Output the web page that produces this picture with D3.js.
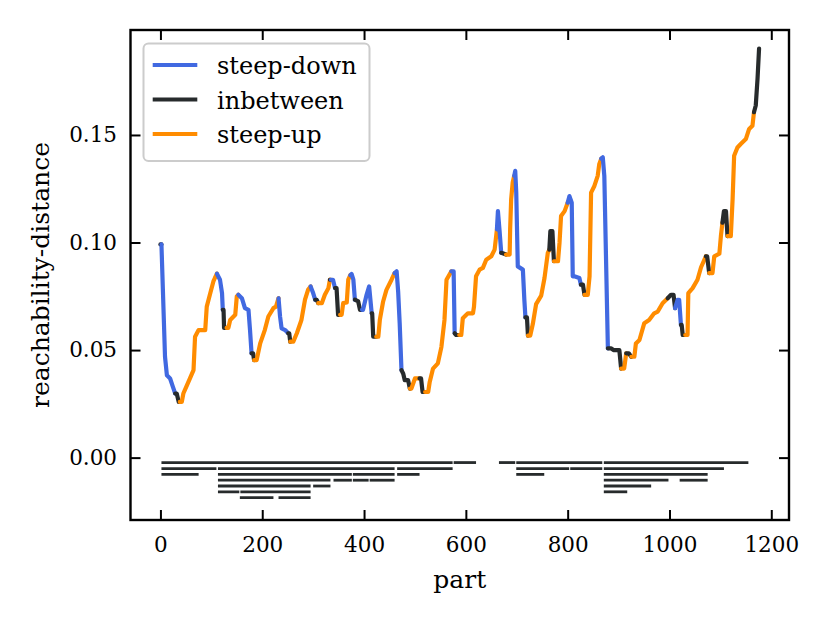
<!DOCTYPE html>
<html>
<head>
<meta charset="utf-8">
<script src="https://cdn.jsdelivr.net/npm/d3@7"></script>
<style>
  body { margin: 0; background: #fff; }
  svg text { font-family: "DejaVu Serif", serif; fill: #000; }
</style>
</head>
<body>
<svg id="chart" width="831" height="623"></svg>
<script>
// reachability plot: breakpoints, one line per run
// kind of the segment leading into each point: D steep-down, B inbetween, U steep-up
const part = [
    0, 2,
    9, 12.7, 19, 24.5, 29,
    32, 36, 38,
    42, 45, 52, 58, 65, 68, 75, 88, 91, 98, 104, 107, 111,
    117, 121, 122.5,
    124, 125, 130,
    133.5, 137, 147, 150, 153,
    160, 166, 173, 176, 179,
    182, 184,
    189, 196, 205, 212, 222, 227, 232,
    235, 238, 245, 251,
    253, 255,
    261, 268, 277, 284, 290, 295,
    300, 304,
    307, 310,
    317, 323, 330, 333,
    335,
    339, 343,
    346, 349, 353,
    356, 359, 366, 369, 373,
    375.5, 379, 382,
    388.5, 392, 396,
    398, 405, 410, 415,
    416, 418, 424,
    428, 431, 437.5, 444, 454, 460,
    464, 467, 470, 473.5,
    477, 480, 486.5, 490,
    493, 500, 509,
    512, 515, 520,
    526, 529, 535.5, 545, 552, 558, 562, 571.5,
    576, 578,
    581, 587,
    591, 594, 604, 614, 616, 620, 627, 633.5, 640, 650, 656.5, 661,
    663, 666, 669.5,
    679,
    686, 687, 689, 692, 695,
    697, 699, 702, 712, 715, 717,
    720, 722,
    726.5, 731.5, 738, 748, 754.5, 761, 764,
    766, 770, 773,
    781, 784, 787, 794, 800,
    803.5, 808, 810, 813, 823, 826,
    830, 833,
    839.5, 843, 846, 852.5, 859, 862, 866,
    869, 872, 879,
    885, 890, 901.5, 905,
    911, 915,
    920, 925,
    931, 934, 941, 950.5, 960, 970, 977, 986.5, 996.5,
    1003, 1008, 1011,
    1016, 1019, 1022.5,
    1024, 1026, 1031,
    1035.5, 1037, 1045.5, 1055, 1062, 1071.5,
    1074, 1078,
    1084.5, 1088, 1098, 1101, 1104,
    1107, 1111, 1114,
    1120.5, 1124, 1127, 1133.5, 1140, 1150, 1156.5, 1163, 1166,
    1169.5, 1173, 1176
];
const reach = [
    0.0991, 0.0991,
    0.0469, 0.0383, 0.0368, 0.0329, 0.0298,
    0.0298, 0.0259, 0.0259,
    0.0259, 0.0298, 0.0336, 0.0368, 0.0407, 0.0562, 0.0593, 0.0593, 0.0702, 0.0765, 0.0819, 0.0835, 0.0855,
    0.0827, 0.0765, 0.0687,
    0.0687, 0.0603, 0.0603,
    0.0603, 0.064, 0.0664, 0.0749, 0.0757,
    0.0741, 0.0695, 0.0687, 0.0593, 0.0485,
    0.0485, 0.0453,
    0.0453, 0.0531, 0.0593, 0.0656, 0.0695, 0.0702, 0.0741,
    0.0656, 0.0601, 0.0593, 0.0578,
    0.0578, 0.0539,
    0.0539, 0.0578, 0.064, 0.0734, 0.078, 0.0796,
    0.0765, 0.0734,
    0.0734, 0.0718,
    0.0718, 0.0757, 0.0788, 0.0827,
    0.0827,
    0.0827, 0.0788,
    0.0788, 0.0664, 0.0664,
    0.0664, 0.0718, 0.0721, 0.0827, 0.0848,
    0.0854, 0.0827, 0.0734,
    0.0726, 0.0687, 0.0687,
    0.0687, 0.0757, 0.0796, 0.0671,
    0.0671, 0.0562, 0.0562,
    0.0562, 0.064, 0.0726, 0.078, 0.0827, 0.0858,
    0.0866, 0.0772, 0.0625, 0.0407,
    0.039, 0.036, 0.036, 0.0321,
    0.0321, 0.0368, 0.0368,
    0.0368, 0.0305, 0.0305,
    0.0305, 0.0352, 0.0414, 0.0438, 0.0515, 0.064, 0.0827, 0.0866,
    0.0866, 0.0578,
    0.057, 0.057,
    0.057, 0.0648, 0.0671, 0.0671, 0.0702, 0.0843, 0.0874, 0.0882, 0.092, 0.0936, 0.0967, 0.1061,
    0.1146, 0.1061, 0.0952,
    0.0944,
    0.0944, 0.1061, 0.1201, 0.1279, 0.131,
    0.1333, 0.1232, 0.0889, 0.0874, 0.073, 0.0652,
    0.0652, 0.0567,
    0.0567, 0.0621, 0.0714, 0.0753, 0.0835, 0.0952, 0.0967,
    0.1053, 0.1053, 0.0913,
    0.0913, 0.0999, 0.1123, 0.1146, 0.1185,
    0.1216, 0.1185, 0.0843, 0.0843, 0.0835, 0.0804,
    0.0804, 0.0757,
    0.0757, 0.0843, 0.1232, 0.1263, 0.131, 0.1364, 0.139,
    0.1396, 0.131, 0.0508,
    0.0508, 0.05, 0.05, 0.0414,
    0.0414, 0.0485,
    0.0485, 0.0469,
    0.0469, 0.0531, 0.0547, 0.0625, 0.064, 0.0671, 0.0679, 0.0718, 0.0741,
    0.0757, 0.0757, 0.0695,
    0.0734, 0.0734, 0.0617,
    0.0617, 0.057, 0.057,
    0.057, 0.0765, 0.0788, 0.0827, 0.0885, 0.0936,
    0.0936, 0.0858,
    0.0858, 0.0936, 0.0948, 0.103, 0.1092,
    0.1146, 0.1146, 0.103,
    0.103, 0.1201, 0.1403, 0.1442, 0.1458, 0.1481, 0.1528, 0.1543, 0.1606,
    0.1637, 0.1762, 0.1902
];
const kind = [
    "B", "B",
    "D", "D", "D", "D", "D",
    "B", "B", "B",
    "U", "U", "U", "U", "U", "U", "U", "U", "U", "U", "U", "U", "U",
    "D", "D", "D",
    "B", "B", "B",
    "U", "U", "U", "U", "U",
    "D", "D", "D", "D", "D",
    "B", "B",
    "U", "U", "U", "U", "U", "U", "U",
    "D", "D", "D", "D",
    "B", "B",
    "U", "U", "U", "U", "U", "U",
    "D", "D",
    "B", "B",
    "U", "U", "U", "U",
    "B",
    "D", "D",
    "B", "B", "B",
    "U", "U", "U", "U", "U",
    "D", "D", "D",
    "B", "B", "B",
    "D", "D", "D", "D",
    "B", "B", "B",
    "U", "U", "U", "U", "U", "U",
    "D", "D", "D", "D",
    "B", "B", "B", "B",
    "U", "U", "U",
    "B", "B", "B",
    "U", "U", "U", "U", "U", "U", "U", "U",
    "D", "D",
    "B", "B",
    "U", "U", "U", "U", "U", "U", "U", "U", "U", "U", "U", "U",
    "D", "D", "D",
    "B",
    "U", "U", "U", "U", "U",
    "D", "D", "D", "D", "D", "D",
    "B", "B",
    "U", "U", "U", "U", "U", "U", "U",
    "B", "B", "B",
    "U", "U", "U", "U", "U",
    "D", "D", "D", "D", "D", "D",
    "B", "B",
    "U", "U", "U", "U", "U", "U", "U",
    "D", "D", "D",
    "B", "B", "B", "B",
    "U", "U",
    "B", "B",
    "U", "U", "U", "U", "U", "U", "U", "U", "U",
    "B", "B", "B",
    "D", "D", "D",
    "B", "B", "B",
    "U", "U", "U", "U", "U", "U",
    "B", "B",
    "U", "U", "U", "U", "U",
    "B", "B", "B",
    "U", "U", "U", "U", "U", "U", "U", "U", "U",
    "B", "B", "B"
];

// clusters drawn as bars under the plot
const clusterStart = [2, 576, 665, 699, 871,
                      2, 113, 465, 699, 805, 871,
                      2, 113, 378, 465, 699, 871,
                      113, 340, 378, 411, 871, 1020,
                      113, 300, 871,
                      113, 157, 871,
                      156, 232];
const clusterEnd   = [574, 620, 697, 868, 1155,
                      110, 460, 574, 803, 868, 1107,
                      75, 376, 460, 509, 754, 1075,
                      334, 376, 409, 460, 998, 1075,
                      295, 334, 964,
                      155, 295, 917,
                      222, 295];
const clusterLevel = [0, 0, 0, 0, 0,
                      1, 1, 1, 1, 1, 1,
                      2, 2, 2, 2, 2, 2,
                      3, 3, 3, 3, 3, 3,
                      4, 4, 4,
                      5, 5, 5,
                      6, 6];
const levelY = [-0.0023, -0.0051, -0.0078, -0.0105, -0.0132, -0.0159, -0.0186];

const xTicks = [0, 200, 400, 600, 800, 1000, 1200];
const yTicks = [0, 0.05, 0.10, 0.15];
const legendKinds = ["D", "B", "U"];
const legendNames = ["steep-down", "inbetween", "steep-up"];

const colors = { D: "#4169e1", B: "#272b2c", U: "#ff8c00" };

const mLeft = 130.5, mRight = 789, mTop = 30, mBottom = 520;

const svg = d3.select("#chart");
svg.append("rect").attr("width", 831).attr("height", 623).attr("fill", "#fff");

const x = d3.scaleLinear().domain([-58.8, 1234.8]).range([mLeft, mRight]);
const y = d3.scaleLinear().domain([-0.029, 0.1988]).range([mBottom, mTop]);

svg.append("clipPath").attr("id", "plotclip")
    .append("rect")
    .attr("x", mLeft).attr("y", mTop)
    .attr("width", mRight - mLeft).attr("height", mBottom - mTop);

const plot = svg.append("g").attr("clip-path", "url(#plotclip)");

// cluster bars
plot.append("g")
    .selectAll("line")
    .data(clusterStart.map((s, i) => ({ s: s, e: clusterEnd[i], lv: clusterLevel[i] })))
    .enter()
    .append("line")
    .attr("x1", d => x(d.s))
    .attr("x2", d => x(d.e))
    .attr("y1", d => y(levelY[d.lv]))
    .attr("y2", d => y(levelY[d.lv]))
    .attr("stroke", colors.B)
    .attr("stroke-width", 2.8);

// split the curve into runs of the same kind
let runs = [];
for (let i = 1; i < part.length; i++) {
    let last = runs[runs.length - 1];
    if (last && last.kind === kind[i]) last.pts.push(i);
    else runs.push({ kind: kind[i], pts: [i - 1, i] });
}

const line = d3.line()
    .x(i => x(part[i]))
    .y(i => y(reach[i]));

plot.append("g")
    .selectAll("path")
    .data(runs)
    .enter()
    .append("path")
    .attr("d", d => line(d.pts))
    .attr("fill", "none")
    .attr("stroke", d => colors[d.kind])
    .attr("stroke-width", 4.2)
    .attr("stroke-linejoin", "round")
    .attr("stroke-linecap", "round");

// axes with inward ticks on all four sides
const fmtY = d3.format(".2f");
function styleAxis(g) {
    g.select(".domain").remove();
    g.selectAll(".tick line").attr("stroke", "#000").attr("stroke-width", 2);
    g.selectAll(".tick text")
        .attr("fill", "#000")
        .style("font-family", "'DejaVu Serif', serif")
        .style("font-size", "21.5px");
}

svg.append("g")
    .attr("transform", "translate(0," + mBottom + ")")
    .call(d3.axisBottom(x).tickValues(xTicks).tickSize(-10).tickPadding(16.5).tickFormat(d3.format("d")))
    .call(styleAxis);
svg.append("g")
    .attr("transform", "translate(0," + mTop + ")")
    .call(d3.axisTop(x).tickValues(xTicks).tickSize(-10).tickFormat(""))
    .call(styleAxis);
svg.append("g")
    .attr("transform", "translate(" + mLeft + ",0)")
    .call(d3.axisLeft(y).tickValues(yTicks).tickSize(-10).tickPadding(13.5).tickFormat(fmtY))
    .call(styleAxis);
svg.append("g")
    .attr("transform", "translate(" + mRight + ",0)")
    .call(d3.axisRight(y).tickValues(yTicks).tickSize(-10).tickFormat(""))
    .call(styleAxis);

svg.append("rect")
    .attr("x", mLeft).attr("y", mTop)
    .attr("width", mRight - mLeft).attr("height", mBottom - mTop)
    .attr("fill", "none")
    .attr("stroke", "#000")
    .attr("stroke-width", 2.4);

// axis labels
svg.append("text")
    .attr("x", (mLeft + mRight) / 2)
    .attr("y", 588)
    .attr("text-anchor", "middle")
    .style("font-size", "25px")
    .text("part");

svg.append("text")
    .attr("transform", "translate(49," + (mTop + mBottom) / 2 + ") rotate(-90)")
    .attr("text-anchor", "middle")
    .style("font-size", "25px")
    .text("reachability-distance");

// legend
const legend = svg.append("g");
legend.append("rect")
    .attr("x", 143.5).attr("y", 43.5)
    .attr("width", 226).attr("height", 117.5)
    .attr("rx", 5)
    .attr("fill", "#fff")
    .attr("fill-opacity", 0.8)
    .attr("stroke", "#cccccc")
    .attr("stroke-width", 2);

const rows = legend.selectAll("g.row")
    .data(legendKinds)
    .enter()
    .append("g")
    .attr("class", "row")
    .attr("transform", (d, i) => "translate(0," + (65 + i * 34.5) + ")");

rows.append("line")
    .attr("x1", 152.7).attr("x2", 197.3)
    .attr("stroke", d => colors[d])
    .attr("stroke-width", 4);

rows.append("text")
    .attr("x", 217)
    .attr("y", 9)
    .style("font-size", "24px")
    .text((d, i) => legendNames[i]);
</script>
</body>
</html>
